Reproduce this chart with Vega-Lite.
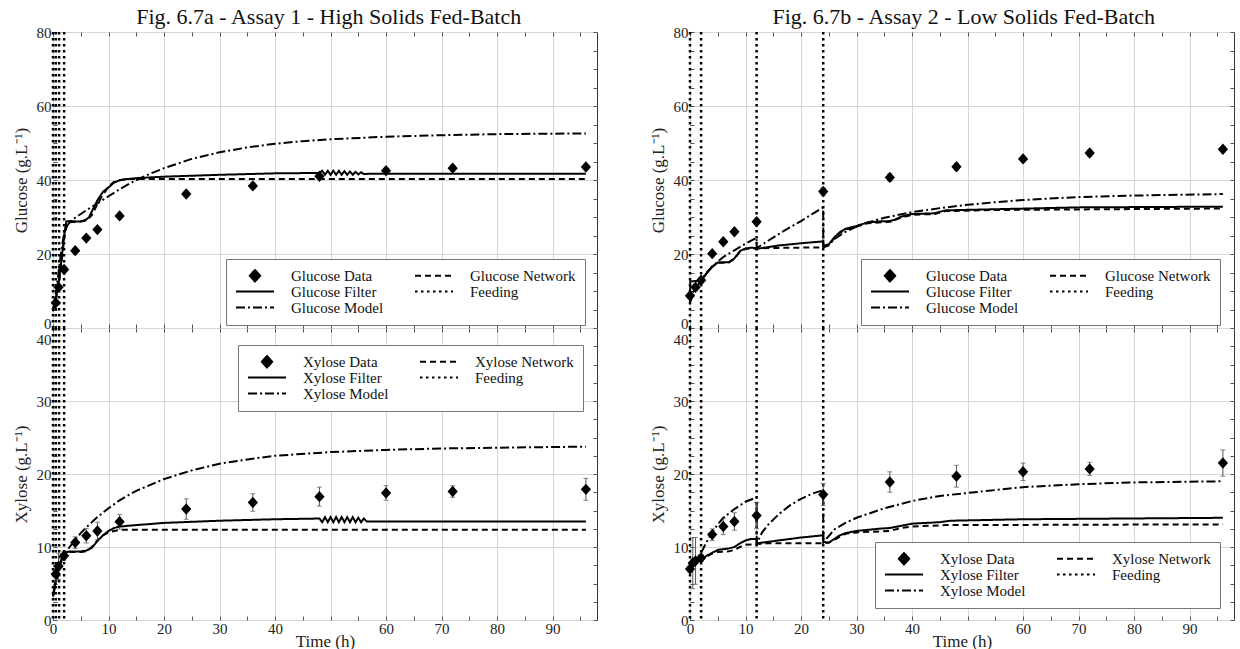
{
"$schema": "https://vega.github.io/schema/vega-lite/v6.json",
"background": "white",
"padding": {"left": 11, "top": 5, "right": 4, "bottom": 0},
"spacing": 50,
"config": {
  "font": "Liberation Serif",
  "view": {"stroke": "#333", "strokeWidth": 1},
  "axis": {"labelFont": "Liberation Serif", "labelFontSize": 15, "labelColor": "#222", "titleFont": "Liberation Serif", "titleFontSize": 17, "titleFontWeight": "normal", "titleColor": "#222", "gridColor": "#d6d6d6", "gridWidth": 1, "domain": false, "tickColor": "#555", "tickSize": -4, "labelPadding": 5, "labelOverlap": false, "labelFlush": false},
  "legend": {"title": null, "orient": "none", "columns": 2, "columnPadding": 30, "rowPadding": 0, "padding": 9, "strokeColor": "#777", "fillColor": "white", "labelFont": "Liberation Serif", "labelFontSize": 15, "labelColor": "#111", "labelOffset": 16, "symbolSize": 1444, "symbolStrokeWidth": 2, "symbolStrokeColor": "black", "symbolFillColor": "black", "symbolOpacity": 1, "clipHeight": 15},
  "title": {"font": "Liberation Serif", "fontSize": 22, "fontWeight": "normal", "color": "#111", "anchor": "middle", "baseline": "alphabetic", "offset": -4}
},
"datasets": {
  "feeds": [
    {"a":"A1","l":"Feeding","t":0},{"a":"A1","l":"Feeding","t":0.5},{"a":"A1","l":"Feeding","t":1.1},{"a":"A1","l":"Feeding","t":2},
    {"a":"A2","l":"Feeding","t":0},{"a":"A2","l":"Feeding","t":2},{"a":"A2","l":"Feeding","t":12},{"a":"A2","l":"Feeding","t":24}
  ],
  "points": [
    {"p":"A1G","l":"Glucose Data","t":0.5,"v":6.8,"e":0.5},{"p":"A1G","l":"Glucose Data","t":1,"v":11,"e":0.5},{"p":"A1G","l":"Glucose Data","t":2,"v":15.8,"e":0.6},{"p":"A1G","l":"Glucose Data","t":4,"v":20.9,"e":0.6},{"p":"A1G","l":"Glucose Data","t":6,"v":24.3,"e":0.6},{"p":"A1G","l":"Glucose Data","t":8,"v":26.6,"e":0.6},{"p":"A1G","l":"Glucose Data","t":12,"v":30.3,"e":0.6},{"p":"A1G","l":"Glucose Data","t":24,"v":36.2,"e":0.8},{"p":"A1G","l":"Glucose Data","t":36,"v":38.4,"e":0.8},{"p":"A1G","l":"Glucose Data","t":48,"v":41,"e":0.9},{"p":"A1G","l":"Glucose Data","t":60,"v":42.5,"e":0.7},{"p":"A1G","l":"Glucose Data","t":72,"v":43.2,"e":0.8},{"p":"A1G","l":"Glucose Data","t":96,"v":43.5,"e":0.7},
    {"p":"A1X","l":"Xylose Data","t":0.5,"v":6.3,"e":1.0},{"p":"A1X","l":"Xylose Data","t":1,"v":7.35,"e":1.8},{"p":"A1X","l":"Xylose Data","t":2,"v":8.8,"e":0.6},{"p":"A1X","l":"Xylose Data","t":4,"v":10.6,"e":0.8},{"p":"A1X","l":"Xylose Data","t":6,"v":11.55,"e":1.0},{"p":"A1X","l":"Xylose Data","t":8,"v":12.2,"e":1.2},{"p":"A1X","l":"Xylose Data","t":12,"v":13.45,"e":1.0},{"p":"A1X","l":"Xylose Data","t":24,"v":15.2,"e":1.4},{"p":"A1X","l":"Xylose Data","t":36,"v":16.1,"e":1.2},{"p":"A1X","l":"Xylose Data","t":48,"v":16.9,"e":1.3},{"p":"A1X","l":"Xylose Data","t":60,"v":17.4,"e":1.0},{"p":"A1X","l":"Xylose Data","t":72,"v":17.6,"e":0.8},{"p":"A1X","l":"Xylose Data","t":96,"v":17.9,"e":1.5},
    {"p":"A2G","l":"Glucose Data","t":0,"v":8.7,"e":0.8},{"p":"A2G","l":"Glucose Data","t":1,"v":11,"e":0.8},{"p":"A2G","l":"Glucose Data","t":2,"v":12.9,"e":0.6},{"p":"A2G","l":"Glucose Data","t":4,"v":20.1,"e":0.6},{"p":"A2G","l":"Glucose Data","t":6,"v":23.3,"e":0.6},{"p":"A2G","l":"Glucose Data","t":8,"v":26,"e":0.6},{"p":"A2G","l":"Glucose Data","t":12,"v":28.7,"e":0.8},{"p":"A2G","l":"Glucose Data","t":24,"v":36.9,"e":1.0},{"p":"A2G","l":"Glucose Data","t":36,"v":40.7,"e":1.0},{"p":"A2G","l":"Glucose Data","t":48,"v":43.6,"e":0.9},{"p":"A2G","l":"Glucose Data","t":60,"v":45.7,"e":0.8},{"p":"A2G","l":"Glucose Data","t":72,"v":47.3,"e":0.9},{"p":"A2G","l":"Glucose Data","t":96,"v":48.3,"e":0.7},
    {"p":"A2X","l":"Xylose Data","t":0,"v":7,"e":0.5},{"p":"A2X","l":"Xylose Data","t":0.5,"v":7.8,"e":3.5},{"p":"A2X","l":"Xylose Data","t":1,"v":8.1,"e":3.2},{"p":"A2X","l":"Xylose Data","t":2,"v":8.5,"e":0.5},{"p":"A2X","l":"Xylose Data","t":4,"v":11.7,"e":0.8},{"p":"A2X","l":"Xylose Data","t":6,"v":12.8,"e":1.1},{"p":"A2X","l":"Xylose Data","t":8,"v":13.5,"e":1.2},{"p":"A2X","l":"Xylose Data","t":12,"v":14.3,"e":1.8},{"p":"A2X","l":"Xylose Data","t":24,"v":17.2,"e":1.5},{"p":"A2X","l":"Xylose Data","t":36,"v":18.9,"e":1.4},{"p":"A2X","l":"Xylose Data","t":48,"v":19.7,"e":1.5},{"p":"A2X","l":"Xylose Data","t":60,"v":20.3,"e":1.2},{"p":"A2X","l":"Xylose Data","t":72,"v":20.7,"e":0.9},{"p":"A2X","l":"Xylose Data","t":96,"v":21.5,"e":1.8}
  ],
  "curves": [
    {"p":"A1G","l":"Glucose Filter","t":0,"v":5},{"p":"A1G","l":"Glucose Filter","t":0.5,"v":8},{"p":"A1G","l":"Glucose Filter","t":1,"v":12},{"p":"A1G","l":"Glucose Filter","t":1.5,"v":18},{"p":"A1G","l":"Glucose Filter","t":2,"v":25},{"p":"A1G","l":"Glucose Filter","t":2.4,"v":28.8},{"p":"A1G","l":"Glucose Filter","t":3,"v":28.9},{"p":"A1G","l":"Glucose Filter","t":4,"v":28.8},{"p":"A1G","l":"Glucose Filter","t":5,"v":28.8},{"p":"A1G","l":"Glucose Filter","t":6,"v":29.3},{"p":"A1G","l":"Glucose Filter","t":6.5,"v":30},{"p":"A1G","l":"Glucose Filter","t":7,"v":31.5},{"p":"A1G","l":"Glucose Filter","t":8,"v":34.5},{"p":"A1G","l":"Glucose Filter","t":9,"v":36.8},{"p":"A1G","l":"Glucose Filter","t":10,"v":38},{"p":"A1G","l":"Glucose Filter","t":11,"v":39.3},{"p":"A1G","l":"Glucose Filter","t":12,"v":39.9},{"p":"A1G","l":"Glucose Filter","t":13,"v":40.2},{"p":"A1G","l":"Glucose Filter","t":15,"v":40.5},{"p":"A1G","l":"Glucose Filter","t":20,"v":40.9},{"p":"A1G","l":"Glucose Filter","t":30,"v":41.4},{"p":"A1G","l":"Glucose Filter","t":40,"v":41.8},{"p":"A1G","l":"Glucose Filter","t":48,"v":41.9},{"p":"A1G","l":"Glucose Filter","t":48.5,"v":42.5},{"p":"A1G","l":"Glucose Filter","t":49,"v":41.4},{"p":"A1G","l":"Glucose Filter","t":49.5,"v":42.5},{"p":"A1G","l":"Glucose Filter","t":50,"v":41.4},{"p":"A1G","l":"Glucose Filter","t":50.5,"v":42.5},{"p":"A1G","l":"Glucose Filter","t":51,"v":41.4},{"p":"A1G","l":"Glucose Filter","t":51.5,"v":42.5},{"p":"A1G","l":"Glucose Filter","t":52,"v":41.4},{"p":"A1G","l":"Glucose Filter","t":52.5,"v":42.4},{"p":"A1G","l":"Glucose Filter","t":53,"v":41.4},{"p":"A1G","l":"Glucose Filter","t":53.5,"v":42.3},{"p":"A1G","l":"Glucose Filter","t":54,"v":41.4},{"p":"A1G","l":"Glucose Filter","t":54.5,"v":42.2},{"p":"A1G","l":"Glucose Filter","t":55,"v":41.5},{"p":"A1G","l":"Glucose Filter","t":55.5,"v":42.1},{"p":"A1G","l":"Glucose Filter","t":56,"v":41.6},{"p":"A1G","l":"Glucose Filter","t":57,"v":41.7},{"p":"A1G","l":"Glucose Filter","t":96,"v":41.7},
    {"p":"A1G","l":"Glucose Network","t":0,"v":5},{"p":"A1G","l":"Glucose Network","t":0.5,"v":7.5},{"p":"A1G","l":"Glucose Network","t":1,"v":11.5},{"p":"A1G","l":"Glucose Network","t":1.5,"v":17},{"p":"A1G","l":"Glucose Network","t":2,"v":24},{"p":"A1G","l":"Glucose Network","t":2.5,"v":28},{"p":"A1G","l":"Glucose Network","t":3,"v":28.6},{"p":"A1G","l":"Glucose Network","t":5,"v":28.8},{"p":"A1G","l":"Glucose Network","t":6,"v":29},{"p":"A1G","l":"Glucose Network","t":7,"v":30.5},{"p":"A1G","l":"Glucose Network","t":8,"v":33.5},{"p":"A1G","l":"Glucose Network","t":9,"v":36},{"p":"A1G","l":"Glucose Network","t":10,"v":38.2},{"p":"A1G","l":"Glucose Network","t":11,"v":39.5},{"p":"A1G","l":"Glucose Network","t":12,"v":40},{"p":"A1G","l":"Glucose Network","t":14,"v":40.3},{"p":"A1G","l":"Glucose Network","t":96,"v":40.3},
    {"p":"A1G","l":"Glucose Model","t":0,"v":4.5},{"p":"A1G","l":"Glucose Model","t":0.5,"v":9},{"p":"A1G","l":"Glucose Model","t":1,"v":15},{"p":"A1G","l":"Glucose Model","t":1.5,"v":21},{"p":"A1G","l":"Glucose Model","t":2,"v":25.5},{"p":"A1G","l":"Glucose Model","t":2.5,"v":27.5},{"p":"A1G","l":"Glucose Model","t":3,"v":28.6},{"p":"A1G","l":"Glucose Model","t":4,"v":29.8},{"p":"A1G","l":"Glucose Model","t":5,"v":30.8},{"p":"A1G","l":"Glucose Model","t":6,"v":31.8},{"p":"A1G","l":"Glucose Model","t":8,"v":33.7},{"p":"A1G","l":"Glucose Model","t":10,"v":35.6},{"p":"A1G","l":"Glucose Model","t":12,"v":37.5},{"p":"A1G","l":"Glucose Model","t":14,"v":39.2},{"p":"A1G","l":"Glucose Model","t":16,"v":40.7},{"p":"A1G","l":"Glucose Model","t":18,"v":42},{"p":"A1G","l":"Glucose Model","t":20,"v":43.2},{"p":"A1G","l":"Glucose Model","t":25,"v":45.7},{"p":"A1G","l":"Glucose Model","t":30,"v":47.5},{"p":"A1G","l":"Glucose Model","t":35,"v":48.8},{"p":"A1G","l":"Glucose Model","t":40,"v":49.8},{"p":"A1G","l":"Glucose Model","t":45,"v":50.5},{"p":"A1G","l":"Glucose Model","t":50,"v":51},{"p":"A1G","l":"Glucose Model","t":60,"v":51.7},{"p":"A1G","l":"Glucose Model","t":70,"v":52.1},{"p":"A1G","l":"Glucose Model","t":80,"v":52.4},{"p":"A1G","l":"Glucose Model","t":96,"v":52.6},
    {"p":"A1X","l":"Xylose Filter","t":0,"v":3.3},{"p":"A1X","l":"Xylose Filter","t":0.5,"v":5.5},{"p":"A1X","l":"Xylose Filter","t":1,"v":7},{"p":"A1X","l":"Xylose Filter","t":1.5,"v":8.3},{"p":"A1X","l":"Xylose Filter","t":2,"v":9.2},{"p":"A1X","l":"Xylose Filter","t":3,"v":9.4},{"p":"A1X","l":"Xylose Filter","t":5,"v":9.4},{"p":"A1X","l":"Xylose Filter","t":6,"v":9.5},{"p":"A1X","l":"Xylose Filter","t":7,"v":9.9},{"p":"A1X","l":"Xylose Filter","t":8,"v":10.8},{"p":"A1X","l":"Xylose Filter","t":9,"v":11.6},{"p":"A1X","l":"Xylose Filter","t":10,"v":12.2},{"p":"A1X","l":"Xylose Filter","t":11,"v":12.6},{"p":"A1X","l":"Xylose Filter","t":12,"v":12.8},{"p":"A1X","l":"Xylose Filter","t":15,"v":13},{"p":"A1X","l":"Xylose Filter","t":20,"v":13.3},{"p":"A1X","l":"Xylose Filter","t":30,"v":13.6},{"p":"A1X","l":"Xylose Filter","t":40,"v":13.8},{"p":"A1X","l":"Xylose Filter","t":48,"v":13.9},{"p":"A1X","l":"Xylose Filter","t":48.5,"v":13.4},{"p":"A1X","l":"Xylose Filter","t":49,"v":14.1},{"p":"A1X","l":"Xylose Filter","t":49.5,"v":13.4},{"p":"A1X","l":"Xylose Filter","t":50,"v":14.1},{"p":"A1X","l":"Xylose Filter","t":50.5,"v":13.4},{"p":"A1X","l":"Xylose Filter","t":51,"v":14.1},{"p":"A1X","l":"Xylose Filter","t":51.5,"v":13.4},{"p":"A1X","l":"Xylose Filter","t":52,"v":14.1},{"p":"A1X","l":"Xylose Filter","t":52.5,"v":13.4},{"p":"A1X","l":"Xylose Filter","t":53,"v":14.1},{"p":"A1X","l":"Xylose Filter","t":53.5,"v":13.4},{"p":"A1X","l":"Xylose Filter","t":54,"v":14.1},{"p":"A1X","l":"Xylose Filter","t":54.5,"v":13.4},{"p":"A1X","l":"Xylose Filter","t":55,"v":14},{"p":"A1X","l":"Xylose Filter","t":55.5,"v":13.4},{"p":"A1X","l":"Xylose Filter","t":56,"v":13.9},{"p":"A1X","l":"Xylose Filter","t":56.5,"v":13.5},{"p":"A1X","l":"Xylose Filter","t":57,"v":13.5},{"p":"A1X","l":"Xylose Filter","t":96,"v":13.5},
    {"p":"A1X","l":"Xylose Network","t":0,"v":3.3},{"p":"A1X","l":"Xylose Network","t":0.5,"v":5.5},{"p":"A1X","l":"Xylose Network","t":1,"v":7},{"p":"A1X","l":"Xylose Network","t":1.5,"v":8.3},{"p":"A1X","l":"Xylose Network","t":2,"v":9.2},{"p":"A1X","l":"Xylose Network","t":3,"v":9.3},{"p":"A1X","l":"Xylose Network","t":5,"v":9.3},{"p":"A1X","l":"Xylose Network","t":6,"v":9.4},{"p":"A1X","l":"Xylose Network","t":7,"v":10},{"p":"A1X","l":"Xylose Network","t":8,"v":10.9},{"p":"A1X","l":"Xylose Network","t":9,"v":11.6},{"p":"A1X","l":"Xylose Network","t":10,"v":12},{"p":"A1X","l":"Xylose Network","t":11,"v":12.2},{"p":"A1X","l":"Xylose Network","t":12,"v":12.35},{"p":"A1X","l":"Xylose Network","t":96,"v":12.35},
    {"p":"A1X","l":"Xylose Model","t":0,"v":3.2},{"p":"A1X","l":"Xylose Model","t":0.5,"v":5},{"p":"A1X","l":"Xylose Model","t":1,"v":6.7},{"p":"A1X","l":"Xylose Model","t":1.5,"v":8},{"p":"A1X","l":"Xylose Model","t":2,"v":9},{"p":"A1X","l":"Xylose Model","t":3,"v":10},{"p":"A1X","l":"Xylose Model","t":4,"v":11},{"p":"A1X","l":"Xylose Model","t":5,"v":11.9},{"p":"A1X","l":"Xylose Model","t":6,"v":12.7},{"p":"A1X","l":"Xylose Model","t":8,"v":14.1},{"p":"A1X","l":"Xylose Model","t":10,"v":15.3},{"p":"A1X","l":"Xylose Model","t":12,"v":16.4},{"p":"A1X","l":"Xylose Model","t":15,"v":17.7},{"p":"A1X","l":"Xylose Model","t":20,"v":19.3},{"p":"A1X","l":"Xylose Model","t":25,"v":20.5},{"p":"A1X","l":"Xylose Model","t":30,"v":21.4},{"p":"A1X","l":"Xylose Model","t":35,"v":22},{"p":"A1X","l":"Xylose Model","t":40,"v":22.5},{"p":"A1X","l":"Xylose Model","t":50,"v":23},{"p":"A1X","l":"Xylose Model","t":60,"v":23.3},{"p":"A1X","l":"Xylose Model","t":70,"v":23.5},{"p":"A1X","l":"Xylose Model","t":80,"v":23.6},{"p":"A1X","l":"Xylose Model","t":96,"v":23.75},
    {"p":"A2G","l":"Glucose Filter","t":0,"v":7},{"p":"A2G","l":"Glucose Filter","t":0.05,"v":12.6},{"p":"A2G","l":"Glucose Filter","t":1,"v":12.7},{"p":"A2G","l":"Glucose Filter","t":2,"v":12.8},{"p":"A2G","l":"Glucose Filter","t":3,"v":14.8},{"p":"A2G","l":"Glucose Filter","t":4,"v":16.5},{"p":"A2G","l":"Glucose Filter","t":5,"v":17.7},{"p":"A2G","l":"Glucose Filter","t":7,"v":17.8},{"p":"A2G","l":"Glucose Filter","t":8,"v":18.8},{"p":"A2G","l":"Glucose Filter","t":9,"v":20.8},{"p":"A2G","l":"Glucose Filter","t":10,"v":21.5},{"p":"A2G","l":"Glucose Filter","t":11,"v":21.7},{"p":"A2G","l":"Glucose Filter","t":12,"v":21.6},{"p":"A2G","l":"Glucose Filter","t":12.01,"v":21.4},{"p":"A2G","l":"Glucose Filter","t":16,"v":22.3},{"p":"A2G","l":"Glucose Filter","t":20,"v":22.9},{"p":"A2G","l":"Glucose Filter","t":24,"v":23.4},{"p":"A2G","l":"Glucose Filter","t":24.01,"v":22.2},{"p":"A2G","l":"Glucose Filter","t":25,"v":22.6},{"p":"A2G","l":"Glucose Filter","t":26,"v":24.5},{"p":"A2G","l":"Glucose Filter","t":27,"v":25.9},{"p":"A2G","l":"Glucose Filter","t":28,"v":26.8},{"p":"A2G","l":"Glucose Filter","t":30,"v":27.6},{"p":"A2G","l":"Glucose Filter","t":32,"v":28.5},{"p":"A2G","l":"Glucose Filter","t":34,"v":28.8},{"p":"A2G","l":"Glucose Filter","t":36,"v":28.9},{"p":"A2G","l":"Glucose Filter","t":37,"v":29.3},{"p":"A2G","l":"Glucose Filter","t":38,"v":30.1},{"p":"A2G","l":"Glucose Filter","t":40,"v":30.8},{"p":"A2G","l":"Glucose Filter","t":42,"v":30.9},{"p":"A2G","l":"Glucose Filter","t":44,"v":31},{"p":"A2G","l":"Glucose Filter","t":45,"v":31.4},{"p":"A2G","l":"Glucose Filter","t":46,"v":31.8},{"p":"A2G","l":"Glucose Filter","t":55,"v":32.1},{"p":"A2G","l":"Glucose Filter","t":70,"v":32.6},{"p":"A2G","l":"Glucose Filter","t":96,"v":32.8},
    {"p":"A2G","l":"Glucose Network","t":0,"v":7},{"p":"A2G","l":"Glucose Network","t":0.5,"v":9.5},{"p":"A2G","l":"Glucose Network","t":1,"v":11},{"p":"A2G","l":"Glucose Network","t":2,"v":12.6},{"p":"A2G","l":"Glucose Network","t":3,"v":14.8},{"p":"A2G","l":"Glucose Network","t":4,"v":16.6},{"p":"A2G","l":"Glucose Network","t":5,"v":17.6},{"p":"A2G","l":"Glucose Network","t":7,"v":17.7},{"p":"A2G","l":"Glucose Network","t":8,"v":18.7},{"p":"A2G","l":"Glucose Network","t":9,"v":20.6},{"p":"A2G","l":"Glucose Network","t":10,"v":21.4},{"p":"A2G","l":"Glucose Network","t":12,"v":21.5},{"p":"A2G","l":"Glucose Network","t":14,"v":21.6},{"p":"A2G","l":"Glucose Network","t":24,"v":21.8},{"p":"A2G","l":"Glucose Network","t":25,"v":22.3},{"p":"A2G","l":"Glucose Network","t":26,"v":24.3},{"p":"A2G","l":"Glucose Network","t":27,"v":25.7},{"p":"A2G","l":"Glucose Network","t":28,"v":26.6},{"p":"A2G","l":"Glucose Network","t":30,"v":27.4},{"p":"A2G","l":"Glucose Network","t":32,"v":28.3},{"p":"A2G","l":"Glucose Network","t":36,"v":28.7},{"p":"A2G","l":"Glucose Network","t":38,"v":29.8},{"p":"A2G","l":"Glucose Network","t":40,"v":30.6},{"p":"A2G","l":"Glucose Network","t":44,"v":30.8},{"p":"A2G","l":"Glucose Network","t":46,"v":31.6},{"p":"A2G","l":"Glucose Network","t":55,"v":31.9},{"p":"A2G","l":"Glucose Network","t":96,"v":32.3},
    {"p":"A2G","l":"Glucose Model","t":0,"v":7},{"p":"A2G","l":"Glucose Model","t":1,"v":10.5},{"p":"A2G","l":"Glucose Model","t":2,"v":13},{"p":"A2G","l":"Glucose Model","t":3,"v":15},{"p":"A2G","l":"Glucose Model","t":4,"v":16.6},{"p":"A2G","l":"Glucose Model","t":6,"v":19.2},{"p":"A2G","l":"Glucose Model","t":8,"v":21},{"p":"A2G","l":"Glucose Model","t":10,"v":22.8},{"p":"A2G","l":"Glucose Model","t":12,"v":24.4},{"p":"A2G","l":"Glucose Model","t":12.01,"v":21.6},{"p":"A2G","l":"Glucose Model","t":14,"v":23.5},{"p":"A2G","l":"Glucose Model","t":16,"v":25.4},{"p":"A2G","l":"Glucose Model","t":18,"v":27.2},{"p":"A2G","l":"Glucose Model","t":20,"v":28.9},{"p":"A2G","l":"Glucose Model","t":22,"v":30.8},{"p":"A2G","l":"Glucose Model","t":24,"v":32.6},{"p":"A2G","l":"Glucose Model","t":24.01,"v":21.8},{"p":"A2G","l":"Glucose Model","t":25,"v":22.5},{"p":"A2G","l":"Glucose Model","t":26,"v":24},{"p":"A2G","l":"Glucose Model","t":28,"v":26},{"p":"A2G","l":"Glucose Model","t":30,"v":27.4},{"p":"A2G","l":"Glucose Model","t":32,"v":28.5},{"p":"A2G","l":"Glucose Model","t":35,"v":29.8},{"p":"A2G","l":"Glucose Model","t":40,"v":31.3},{"p":"A2G","l":"Glucose Model","t":45,"v":32.4},{"p":"A2G","l":"Glucose Model","t":50,"v":33.3},{"p":"A2G","l":"Glucose Model","t":55,"v":34},{"p":"A2G","l":"Glucose Model","t":60,"v":34.6},{"p":"A2G","l":"Glucose Model","t":70,"v":35.4},{"p":"A2G","l":"Glucose Model","t":80,"v":35.8},{"p":"A2G","l":"Glucose Model","t":96,"v":36.2},
    {"p":"A2X","l":"Xylose Filter","t":0,"v":7.6},{"p":"A2X","l":"Xylose Filter","t":1,"v":8},{"p":"A2X","l":"Xylose Filter","t":2,"v":8.3},{"p":"A2X","l":"Xylose Filter","t":3,"v":8.8},{"p":"A2X","l":"Xylose Filter","t":4,"v":9.2},{"p":"A2X","l":"Xylose Filter","t":5,"v":9.6},{"p":"A2X","l":"Xylose Filter","t":6,"v":9.7},{"p":"A2X","l":"Xylose Filter","t":7,"v":9.8},{"p":"A2X","l":"Xylose Filter","t":8,"v":10},{"p":"A2X","l":"Xylose Filter","t":9,"v":10.5},{"p":"A2X","l":"Xylose Filter","t":10,"v":10.9},{"p":"A2X","l":"Xylose Filter","t":11,"v":11.1},{"p":"A2X","l":"Xylose Filter","t":12,"v":11.1},{"p":"A2X","l":"Xylose Filter","t":12.01,"v":10.5},{"p":"A2X","l":"Xylose Filter","t":16,"v":10.9},{"p":"A2X","l":"Xylose Filter","t":20,"v":11.3},{"p":"A2X","l":"Xylose Filter","t":24,"v":11.6},{"p":"A2X","l":"Xylose Filter","t":24.01,"v":10.7},{"p":"A2X","l":"Xylose Filter","t":25,"v":10.6},{"p":"A2X","l":"Xylose Filter","t":26,"v":11.1},{"p":"A2X","l":"Xylose Filter","t":27,"v":11.6},{"p":"A2X","l":"Xylose Filter","t":28,"v":11.9},{"p":"A2X","l":"Xylose Filter","t":30,"v":12.2},{"p":"A2X","l":"Xylose Filter","t":34,"v":12.5},{"p":"A2X","l":"Xylose Filter","t":36,"v":12.6},{"p":"A2X","l":"Xylose Filter","t":38,"v":12.9},{"p":"A2X","l":"Xylose Filter","t":40,"v":13.2},{"p":"A2X","l":"Xylose Filter","t":45,"v":13.4},{"p":"A2X","l":"Xylose Filter","t":47,"v":13.6},{"p":"A2X","l":"Xylose Filter","t":60,"v":13.8},{"p":"A2X","l":"Xylose Filter","t":96,"v":14},
    {"p":"A2X","l":"Xylose Network","t":0,"v":7.5},{"p":"A2X","l":"Xylose Network","t":1,"v":7.9},{"p":"A2X","l":"Xylose Network","t":2,"v":8.2},{"p":"A2X","l":"Xylose Network","t":3,"v":8.7},{"p":"A2X","l":"Xylose Network","t":4,"v":9.1},{"p":"A2X","l":"Xylose Network","t":5,"v":9.3},{"p":"A2X","l":"Xylose Network","t":7,"v":9.4},{"p":"A2X","l":"Xylose Network","t":8,"v":9.6},{"p":"A2X","l":"Xylose Network","t":9,"v":10},{"p":"A2X","l":"Xylose Network","t":10,"v":10.3},{"p":"A2X","l":"Xylose Network","t":12,"v":10.4},{"p":"A2X","l":"Xylose Network","t":14,"v":10.5},{"p":"A2X","l":"Xylose Network","t":24,"v":10.5},{"p":"A2X","l":"Xylose Network","t":25,"v":10.6},{"p":"A2X","l":"Xylose Network","t":26,"v":11},{"p":"A2X","l":"Xylose Network","t":28,"v":11.8},{"p":"A2X","l":"Xylose Network","t":30,"v":12},{"p":"A2X","l":"Xylose Network","t":36,"v":12.2},{"p":"A2X","l":"Xylose Network","t":38,"v":12.6},{"p":"A2X","l":"Xylose Network","t":40,"v":12.8},{"p":"A2X","l":"Xylose Network","t":46,"v":13},{"p":"A2X","l":"Xylose Network","t":96,"v":13.1},
    {"p":"A2X","l":"Xylose Model","t":0,"v":7.5},{"p":"A2X","l":"Xylose Model","t":1,"v":8.2},{"p":"A2X","l":"Xylose Model","t":2,"v":9.2},{"p":"A2X","l":"Xylose Model","t":3,"v":10.7},{"p":"A2X","l":"Xylose Model","t":4,"v":12},{"p":"A2X","l":"Xylose Model","t":5,"v":13.1},{"p":"A2X","l":"Xylose Model","t":6,"v":14},{"p":"A2X","l":"Xylose Model","t":8,"v":15.2},{"p":"A2X","l":"Xylose Model","t":10,"v":16.2},{"p":"A2X","l":"Xylose Model","t":12,"v":16.8},{"p":"A2X","l":"Xylose Model","t":12.01,"v":10.5},{"p":"A2X","l":"Xylose Model","t":13,"v":12},{"p":"A2X","l":"Xylose Model","t":14,"v":13},{"p":"A2X","l":"Xylose Model","t":16,"v":14.5},{"p":"A2X","l":"Xylose Model","t":18,"v":15.7},{"p":"A2X","l":"Xylose Model","t":20,"v":16.6},{"p":"A2X","l":"Xylose Model","t":22,"v":17.3},{"p":"A2X","l":"Xylose Model","t":24,"v":17.8},{"p":"A2X","l":"Xylose Model","t":24.01,"v":10.6},{"p":"A2X","l":"Xylose Model","t":25,"v":11.5},{"p":"A2X","l":"Xylose Model","t":26,"v":12.4},{"p":"A2X","l":"Xylose Model","t":28,"v":13.3},{"p":"A2X","l":"Xylose Model","t":30,"v":14},{"p":"A2X","l":"Xylose Model","t":35,"v":15.3},{"p":"A2X","l":"Xylose Model","t":40,"v":16.3},{"p":"A2X","l":"Xylose Model","t":45,"v":17},{"p":"A2X","l":"Xylose Model","t":50,"v":17.4},{"p":"A2X","l":"Xylose Model","t":60,"v":18.2},{"p":"A2X","l":"Xylose Model","t":70,"v":18.6},{"p":"A2X","l":"Xylose Model","t":80,"v":18.85},{"p":"A2X","l":"Xylose Model","t":96,"v":19}
  ]
},
"hconcat": [
 {
  "title": {"text": "Fig. 6.7a - Assay 1 - High Solids Fed-Batch", "dx": 24},
  "spacing": 0,
  "bounds": "flush",
  "resolve": {"scale": {"x": "independent", "y": "independent", "shape": "independent", "strokeDash": "independent"}, "legend": {"shape": "independent", "strokeDash": "independent"}},
  "vconcat": [
   {
    "width": 544, "height": 296,
    "layer": [
     {"data": {"name": "feeds"}, "transform": [{"filter": "datum.a == 'A1'"}],
      "mark": {"type": "rule", "strokeWidth": 2.5, "color": "black"},
      "encoding": {
        "x": {"field": "t", "type": "quantitative", "scale": {"domain": [0, 98], "nice": false}, "axis": {"orient": "bottom", "values": [0,5,10,15,20,25,30,35,40,45,50,55,60,65,70,75,80,85,90,95], "labels": false, "title": null, "grid": true, "gridOpacity": {"condition": {"test": "datum.value % 10 == 0", "value": 1}, "value": 0}, "maxExtent": 0, "minExtent": 0}},
        "strokeDash": {"field": "l", "type": "nominal", "scale": {"domain": ["Glucose Data","Glucose Filter","Glucose Model","Glucose Network","Feeding"], "range": [[1,0],[1,0],[9,3,2,3],[6,4],[2.5,3.5]]},
          "legend": {"legendX": 173, "legendY": 227, "encode": {"symbols": {"update": {"stroke": {"value": "black"}, "strokeWidth": {"value": 2}, "fill": {"value": "black"}, "opacity": {"value": 1}}}}}}
      }},
     {"data": {"name": "curves"}, "transform": [{"filter": "datum.p == 'A1G'"}],
      "mark": {"type": "line", "strokeWidth": 2, "color": "black"},
      "encoding": {
        "x": {"field": "t", "type": "quantitative", "scale": {"domain": [0, 98], "nice": false}, "axis": {"orient": "top", "values": [0,5,10,15,20,25,30,35,40,45,50,55,60,65,70,75,80,85,90,95], "labels": false, "title": null, "grid": false, "maxExtent": 0, "minExtent": 0}},
        "y": {"field": "v", "type": "quantitative", "scale": {"domain": [0, 80], "nice": false}, "axis": {"orient": "left", "values": [0,5,10,15,20,25,30,35,40,45,50,55,60,65,70,75,80], "labelExpr": "datum.value % 20 == 0 ? datum.label : ''", "title": "Glucose (g.L⁻¹)", "grid": true, "gridOpacity": {"condition": {"test": "datum.value % 20 == 0", "value": 1}, "value": 0}, "titlePadding": 6, "labelPadding": 6, "labelBaseline": {"condition": {"test": "datum.value == 0", "value": "alphabetic"}, "value": "middle"}}},
        "strokeDash": {"field": "l", "type": "nominal", "scale": {"domain": ["Glucose Data","Glucose Filter","Glucose Model","Glucose Network","Feeding"], "range": [[1,0],[1,0],[9,3,2,3],[6,4],[2.5,3.5]]},
          "legend": {"legendX": 173, "legendY": 227, "encode": {"symbols": {"update": {"stroke": {"value": "black"}, "strokeWidth": {"value": 2}, "fill": {"value": "black"}, "opacity": {"value": 1}}}}}}
      }},
     {"data": {"name": "points"}, "transform": [{"filter": "datum.p == 'A1G'"}],
      "mark": {"type": "errorbar", "ticks": true, "color": "#555"},
      "encoding": {
        "x": {"field": "t", "type": "quantitative", "scale": {"domain": [0, 98], "nice": false}, "axis": null},
        "y": {"field": "v", "type": "quantitative", "scale": {"domain": [0, 80], "nice": false}, "axis": {"orient": "right", "values": [0,5,10,15,20,25,30,35,40,45,50,55,60,65,70,75,80], "labels": false, "title": null, "grid": false, "maxExtent": 0, "minExtent": 0}},
        "yError": {"field": "e"}
      }},
     {"data": {"name": "points"}, "transform": [{"filter": "datum.p == 'A1G'"}],
      "mark": {"type": "point", "filled": true, "color": "black", "opacity": 1, "size": 1444},
      "encoding": {
        "x": {"field": "t", "type": "quantitative", "scale": {"domain": [0, 98], "nice": false}, "axis": null},
        "y": {"field": "v", "type": "quantitative", "scale": {"domain": [0, 80], "nice": false}, "axis": null},
        "shape": {"field": "l", "type": "nominal", "scale": {"domain": ["Glucose Data","Glucose Filter","Glucose Model","Glucose Network","Feeding"], "range": ["M-0.27,0L0,-0.3L0.27,0L0,0.3Z","stroke","stroke","stroke","stroke"]},
          "legend": {"legendX": 173, "legendY": 227, "encode": {"symbols": {"update": {"stroke": {"value": "black"}, "strokeWidth": {"value": 2}, "fill": {"value": "black"}, "opacity": {"value": 1}}}}}}
      }}
    ]
   },
   {
    "width": 544, "height": 292,
    "layer": [
     {"data": {"name": "feeds"}, "transform": [{"filter": "datum.a == 'A1'"}],
      "mark": {"type": "rule", "strokeWidth": 2.5, "color": "black"},
      "encoding": {
        "x": {"field": "t", "type": "quantitative", "scale": {"domain": [0, 98], "nice": false}, "axis": {"orient": "bottom", "values": [0,5,10,15,20,25,30,35,40,45,50,55,60,65,70,75,80,85,90,95], "grid": true, "gridOpacity": {"condition": {"test": "datum.value % 10 == 0", "value": 1}, "value": 0}, "title": "Time (h)", "labelExpr": "(datum.value % 10 == 0 && datum.value != 50) ? datum.label : ''", "titleY": 21, "titleBaseline": "middle"}},
        "strokeDash": {"field": "l", "type": "nominal", "scale": {"domain": ["Xylose Data","Xylose Filter","Xylose Model","Xylose Network","Feeding"], "range": [[1,0],[1,0],[9,3,2,3],[6,4],[2.5,3.5]]},
          "legend": {"legendX": 185, "legendY": 17, "encode": {"symbols": {"update": {"stroke": {"value": "black"}, "strokeWidth": {"value": 2}, "fill": {"value": "black"}, "opacity": {"value": 1}}}}}}
      }},
     {"data": {"name": "curves"}, "transform": [{"filter": "datum.p == 'A1X'"}],
      "mark": {"type": "line", "strokeWidth": 2, "color": "black"},
      "encoding": {
        "x": {"field": "t", "type": "quantitative", "scale": {"domain": [0, 98], "nice": false}, "axis": {"orient": "top", "values": [0,5,10,15,20,25,30,35,40,45,50,55,60,65,70,75,80,85,90,95], "labels": false, "title": null, "grid": false, "maxExtent": 0, "minExtent": 0}},
        "y": {"field": "v", "type": "quantitative", "scale": {"domain": [0, 40], "nice": false}, "axis": {"orient": "left", "values": [0,2.5,5,7.5,10,12.5,15,17.5,20,22.5,25,27.5,30,32.5,35,37.5,40], "labelExpr": "datum.value % 10 == 0 ? datum.label : ''", "title": "Xylose (g.L⁻¹)", "grid": true, "gridOpacity": {"condition": {"test": "datum.value % 10 == 0", "value": 1}, "value": 0}, "titlePadding": 6, "labelPadding": 6, "labelBaseline": {"condition": {"test": "datum.value == 40", "value": "top"}, "value": "middle"}, "labelOffset": {"condition": {"test": "datum.value == 40", "value": 4}, "value": 0}}},
        "strokeDash": {"field": "l", "type": "nominal", "scale": {"domain": ["Xylose Data","Xylose Filter","Xylose Model","Xylose Network","Feeding"], "range": [[1,0],[1,0],[9,3,2,3],[6,4],[2.5,3.5]]},
          "legend": {"legendX": 185, "legendY": 17, "encode": {"symbols": {"update": {"stroke": {"value": "black"}, "strokeWidth": {"value": 2}, "fill": {"value": "black"}, "opacity": {"value": 1}}}}}}
      }},
     {"data": {"name": "points"}, "transform": [{"filter": "datum.p == 'A1X'"}],
      "mark": {"type": "errorbar", "ticks": true, "color": "#555"},
      "encoding": {
        "x": {"field": "t", "type": "quantitative", "scale": {"domain": [0, 98], "nice": false}, "axis": null},
        "y": {"field": "v", "type": "quantitative", "scale": {"domain": [0, 40], "nice": false}, "axis": {"orient": "right", "values": [0,2.5,5,7.5,10,12.5,15,17.5,20,22.5,25,27.5,30,32.5,35,37.5,40], "labels": false, "title": null, "grid": false, "maxExtent": 0, "minExtent": 0}},
        "yError": {"field": "e"}
      }},
     {"data": {"name": "points"}, "transform": [{"filter": "datum.p == 'A1X'"}],
      "mark": {"type": "point", "filled": true, "color": "black", "opacity": 1, "size": 1444},
      "encoding": {
        "x": {"field": "t", "type": "quantitative", "scale": {"domain": [0, 98], "nice": false}, "axis": null},
        "y": {"field": "v", "type": "quantitative", "scale": {"domain": [0, 40], "nice": false}, "axis": null},
        "shape": {"field": "l", "type": "nominal", "scale": {"domain": ["Xylose Data","Xylose Filter","Xylose Model","Xylose Network","Feeding"], "range": ["M-0.27,0L0,-0.3L0.27,0L0,0.3Z","stroke","stroke","stroke","stroke"]},
          "legend": {"legendX": 185, "legendY": 17, "encode": {"symbols": {"update": {"stroke": {"value": "black"}, "strokeWidth": {"value": 2}, "fill": {"value": "black"}, "opacity": {"value": 1}}}}}}
      }}
    ]
   }
  ]
 },
 {
  "title": {"text": "Fig. 6.7b - Assay 2 - Low Solids Fed-Batch", "dx": 22},
  "spacing": 0,
  "bounds": "flush",
  "resolve": {"scale": {"x": "independent", "y": "independent", "shape": "independent", "strokeDash": "independent"}, "legend": {"shape": "independent", "strokeDash": "independent"}},
  "vconcat": [
   {
    "width": 544, "height": 296,
    "layer": [
     {"data": {"name": "feeds"}, "transform": [{"filter": "datum.a == 'A2'"}],
      "mark": {"type": "rule", "strokeWidth": 2.5, "color": "black"},
      "encoding": {
        "x": {"field": "t", "type": "quantitative", "scale": {"domain": [0, 98], "nice": false}, "axis": {"orient": "bottom", "values": [0,5,10,15,20,25,30,35,40,45,50,55,60,65,70,75,80,85,90,95], "labels": false, "title": null, "grid": true, "gridOpacity": {"condition": {"test": "datum.value % 10 == 0", "value": 1}, "value": 0}, "maxExtent": 0, "minExtent": 0}},
        "strokeDash": {"field": "l", "type": "nominal", "scale": {"domain": ["Glucose Data","Glucose Filter","Glucose Model","Glucose Network","Feeding"], "range": [[1,0],[1,0],[9,3,2,3],[6,4],[2.5,3.5]]},
          "legend": {"legendX": 171, "legendY": 227, "encode": {"symbols": {"update": {"stroke": {"value": "black"}, "strokeWidth": {"value": 2}, "fill": {"value": "black"}, "opacity": {"value": 1}}}}}}
      }},
     {"data": {"name": "curves"}, "transform": [{"filter": "datum.p == 'A2G'"}],
      "mark": {"type": "line", "strokeWidth": 2, "color": "black"},
      "encoding": {
        "x": {"field": "t", "type": "quantitative", "scale": {"domain": [0, 98], "nice": false}, "axis": {"orient": "top", "values": [0,5,10,15,20,25,30,35,40,45,50,55,60,65,70,75,80,85,90,95], "labels": false, "title": null, "grid": false, "maxExtent": 0, "minExtent": 0}},
        "y": {"field": "v", "type": "quantitative", "scale": {"domain": [0, 80], "nice": false}, "axis": {"orient": "left", "values": [0,5,10,15,20,25,30,35,40,45,50,55,60,65,70,75,80], "labelExpr": "datum.value % 20 == 0 ? datum.label : ''", "title": "Glucose (g.L⁻¹)", "grid": true, "gridOpacity": {"condition": {"test": "datum.value % 20 == 0", "value": 1}, "value": 0}, "titlePadding": 6, "labelPadding": 6, "labelBaseline": {"condition": {"test": "datum.value == 0", "value": "alphabetic"}, "value": "middle"}}},
        "strokeDash": {"field": "l", "type": "nominal", "scale": {"domain": ["Glucose Data","Glucose Filter","Glucose Model","Glucose Network","Feeding"], "range": [[1,0],[1,0],[9,3,2,3],[6,4],[2.5,3.5]]},
          "legend": {"legendX": 171, "legendY": 227, "encode": {"symbols": {"update": {"stroke": {"value": "black"}, "strokeWidth": {"value": 2}, "fill": {"value": "black"}, "opacity": {"value": 1}}}}}}
      }},
     {"data": {"name": "points"}, "transform": [{"filter": "datum.p == 'A2G'"}],
      "mark": {"type": "errorbar", "ticks": true, "color": "#555"},
      "encoding": {
        "x": {"field": "t", "type": "quantitative", "scale": {"domain": [0, 98], "nice": false}, "axis": null},
        "y": {"field": "v", "type": "quantitative", "scale": {"domain": [0, 80], "nice": false}, "axis": {"orient": "right", "values": [0,5,10,15,20,25,30,35,40,45,50,55,60,65,70,75,80], "labels": false, "title": null, "grid": false, "maxExtent": 0, "minExtent": 0}},
        "yError": {"field": "e"}
      }},
     {"data": {"name": "points"}, "transform": [{"filter": "datum.p == 'A2G'"}],
      "mark": {"type": "point", "filled": true, "color": "black", "opacity": 1, "size": 1444},
      "encoding": {
        "x": {"field": "t", "type": "quantitative", "scale": {"domain": [0, 98], "nice": false}, "axis": null},
        "y": {"field": "v", "type": "quantitative", "scale": {"domain": [0, 80], "nice": false}, "axis": null},
        "shape": {"field": "l", "type": "nominal", "scale": {"domain": ["Glucose Data","Glucose Filter","Glucose Model","Glucose Network","Feeding"], "range": ["M-0.27,0L0,-0.3L0.27,0L0,0.3Z","stroke","stroke","stroke","stroke"]},
          "legend": {"legendX": 171, "legendY": 227, "encode": {"symbols": {"update": {"stroke": {"value": "black"}, "strokeWidth": {"value": 2}, "fill": {"value": "black"}, "opacity": {"value": 1}}}}}}
      }}
    ]
   },
   {
    "width": 544, "height": 292,
    "layer": [
     {"data": {"name": "feeds"}, "transform": [{"filter": "datum.a == 'A2'"}],
      "mark": {"type": "rule", "strokeWidth": 2.5, "color": "black"},
      "encoding": {
        "x": {"field": "t", "type": "quantitative", "scale": {"domain": [0, 98], "nice": false}, "axis": {"orient": "bottom", "values": [0,5,10,15,20,25,30,35,40,45,50,55,60,65,70,75,80,85,90,95], "grid": true, "gridOpacity": {"condition": {"test": "datum.value % 10 == 0", "value": 1}, "value": 0}, "title": "Time (h)", "labelExpr": "(datum.value % 10 == 0 && datum.value != 50) ? datum.label : ''", "titleY": 21, "titleBaseline": "middle"}},
        "strokeDash": {"field": "l", "type": "nominal", "scale": {"domain": ["Xylose Data","Xylose Filter","Xylose Model","Xylose Network","Feeding"], "range": [[1,0],[1,0],[9,3,2,3],[6,4],[2.5,3.5]]},
          "legend": {"legendX": 185, "legendY": 214, "encode": {"symbols": {"update": {"stroke": {"value": "black"}, "strokeWidth": {"value": 2}, "fill": {"value": "black"}, "opacity": {"value": 1}}}}}}
      }},
     {"data": {"name": "curves"}, "transform": [{"filter": "datum.p == 'A2X'"}],
      "mark": {"type": "line", "strokeWidth": 2, "color": "black"},
      "encoding": {
        "x": {"field": "t", "type": "quantitative", "scale": {"domain": [0, 98], "nice": false}, "axis": {"orient": "top", "values": [0,5,10,15,20,25,30,35,40,45,50,55,60,65,70,75,80,85,90,95], "labels": false, "title": null, "grid": false, "maxExtent": 0, "minExtent": 0}},
        "y": {"field": "v", "type": "quantitative", "scale": {"domain": [0, 40], "nice": false}, "axis": {"orient": "left", "values": [0,2.5,5,7.5,10,12.5,15,17.5,20,22.5,25,27.5,30,32.5,35,37.5,40], "labelExpr": "datum.value % 10 == 0 ? datum.label : ''", "title": "Xylose (g.L⁻¹)", "grid": true, "gridOpacity": {"condition": {"test": "datum.value % 10 == 0", "value": 1}, "value": 0}, "titlePadding": 6, "labelPadding": 6, "labelBaseline": {"condition": {"test": "datum.value == 40", "value": "top"}, "value": "middle"}, "labelOffset": {"condition": {"test": "datum.value == 40", "value": 4}, "value": 0}}},
        "strokeDash": {"field": "l", "type": "nominal", "scale": {"domain": ["Xylose Data","Xylose Filter","Xylose Model","Xylose Network","Feeding"], "range": [[1,0],[1,0],[9,3,2,3],[6,4],[2.5,3.5]]},
          "legend": {"legendX": 185, "legendY": 214, "encode": {"symbols": {"update": {"stroke": {"value": "black"}, "strokeWidth": {"value": 2}, "fill": {"value": "black"}, "opacity": {"value": 1}}}}}}
      }},
     {"data": {"name": "points"}, "transform": [{"filter": "datum.p == 'A2X'"}],
      "mark": {"type": "errorbar", "ticks": true, "color": "#555"},
      "encoding": {
        "x": {"field": "t", "type": "quantitative", "scale": {"domain": [0, 98], "nice": false}, "axis": null},
        "y": {"field": "v", "type": "quantitative", "scale": {"domain": [0, 40], "nice": false}, "axis": {"orient": "right", "values": [0,2.5,5,7.5,10,12.5,15,17.5,20,22.5,25,27.5,30,32.5,35,37.5,40], "labels": false, "title": null, "grid": false, "maxExtent": 0, "minExtent": 0}},
        "yError": {"field": "e"}
      }},
     {"data": {"name": "points"}, "transform": [{"filter": "datum.p == 'A2X'"}],
      "mark": {"type": "point", "filled": true, "color": "black", "opacity": 1, "size": 1444},
      "encoding": {
        "x": {"field": "t", "type": "quantitative", "scale": {"domain": [0, 98], "nice": false}, "axis": null},
        "y": {"field": "v", "type": "quantitative", "scale": {"domain": [0, 40], "nice": false}, "axis": null},
        "shape": {"field": "l", "type": "nominal", "scale": {"domain": ["Xylose Data","Xylose Filter","Xylose Model","Xylose Network","Feeding"], "range": ["M-0.27,0L0,-0.3L0.27,0L0,0.3Z","stroke","stroke","stroke","stroke"]},
          "legend": {"legendX": 185, "legendY": 214, "encode": {"symbols": {"update": {"stroke": {"value": "black"}, "strokeWidth": {"value": 2}, "fill": {"value": "black"}, "opacity": {"value": 1}}}}}}
      }}
    ]
   }
  ]
 }
]
}
